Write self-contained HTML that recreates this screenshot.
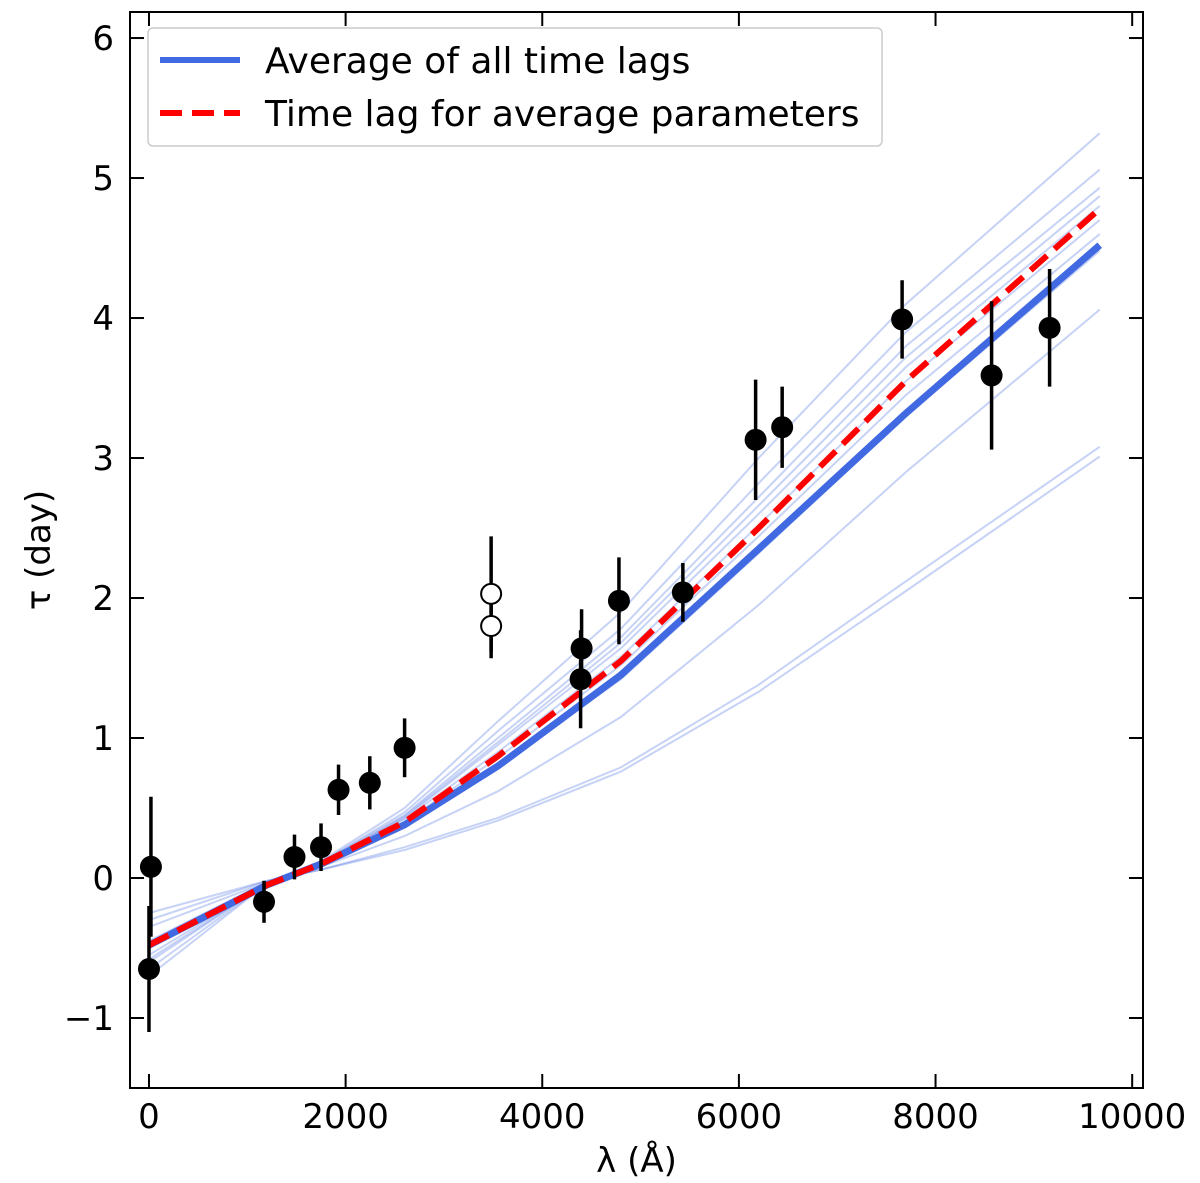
<!DOCTYPE html>
<html><head><meta charset="utf-8"><style>
body{margin:0;background:#fff;}
svg{display:block;font-family:"DejaVu Sans","Liberation Sans",sans-serif;}
</style></head><body>
<svg id="chart" width="1200" height="1183"></svg>
<script>
const gridX=[0,1200,1750,2600,3550,4800,6200,7700,9670];
const thinLines=[
[-0.7,-0.04,0.12,0.5,1.12,1.9,3.0,4.1,5.32],
[-0.65,-0.04,0.11,0.47,1.05,1.78,2.82,3.9,5.06],
[-0.6,-0.04,0.11,0.45,1.0,1.72,2.72,3.8,4.93],
[-0.58,-0.04,0.1,0.44,0.97,1.68,2.66,3.72,4.87],
[-0.55,-0.04,0.1,0.43,0.95,1.64,2.6,3.65,4.8],
[-0.5,-0.04,0.1,0.42,0.9,1.58,2.52,3.55,4.7],
[-0.5,-0.04,0.1,0.4,0.86,1.52,2.44,3.45,4.6],
[-0.45,-0.03,0.09,0.38,0.8,1.42,2.32,3.3,4.48],
[-0.35,-0.03,0.08,0.3,0.62,1.15,1.95,2.9,4.06],
[-0.3,-0.02,0.06,0.22,0.43,0.79,1.38,2.12,3.08],
[-0.25,-0.02,0.06,0.2,0.41,0.76,1.33,2.05,3.01]];
const avgLine=[-0.48,-0.05,0.1,0.38,0.8,1.45,2.35,3.32,4.52];
const avgParamLine=[-0.48,-0.05,0.1,0.4,0.87,1.55,2.5,3.55,4.78];
const ptX=[0,20,1170,1480,1750,1928,2246,2600,4400,4390,4780,5430,6170,6440,7660,8570,9160];
const ptY=[-0.65,0.08,-0.17,0.15,0.22,0.63,0.68,0.93,1.64,1.42,1.98,2.04,3.13,3.22,3.99,3.59,3.93];
const ptErr=[0.45,0.5,0.15,0.16,0.17,0.18,0.19,0.21,0.28,0.35,0.31,0.21,0.43,0.29,0.28,0.53,0.42];
const openX=[3480,3480];
const openY=[2.03,1.80];
const openErr=[0.41,0.23];
const xTicks=[0,2000,4000,6000,8000,10000];
const yTicks=[-1,0,1,2,3,4,5,6];

const L=130,R=1143,T=12,B=1088;
const xMin=-193,xMax=10110,yMin=-1.5,yMax=6.186;
const sx=v=>L+(v-xMin)/(xMax-xMin)*(R-L);
const sy=v=>B-(v-yMin)/(yMax-yMin)*(B-T);
const svg=document.getElementById('chart');
const NS='http://www.w3.org/2000/svg';
function mk(tag,attrs,parent){const e=document.createElementNS(NS,tag);for(const k in attrs)e.setAttribute(k,attrs[k]);(parent||svg).appendChild(e);return e;}
function pathOf(vals){return vals.map((v,i)=>(i?'L':'M')+sx(gridX[i]).toFixed(1)+','+sy(v).toFixed(1)).join('');}

const gThin=mk('g',{});


thinLines.forEach(vals=>{const p=mk('path',{d:pathOf(vals),fill:'none',stroke:'#4169e1','stroke-opacity':0.3,'stroke-width':2},gThin);

});
const pa=mk('path',{d:pathOf(avgLine),fill:'none',stroke:'#4169e1','stroke-width':7});


const pr=mk('path',{d:pathOf(avgParamLine),fill:'none',stroke:'#ff0000','stroke-width':6,'stroke-dasharray':'22,10'});



ptX.forEach((x,i)=>{
const l=mk('line',{x1:sx(x),x2:sx(x),y1:sy(ptY[i]-ptErr[i]),y2:sy(ptY[i]+ptErr[i]),stroke:'#000','stroke-width':3.5});


const c=mk('circle',{cx:sx(x),cy:sy(ptY[i]),r:11,fill:'#000'});


});
openX.forEach((x,i)=>{
const l=mk('line',{x1:sx(x),x2:sx(x),y1:sy(openY[i]-openErr[i]),y2:sy(openY[i]+openErr[i]),stroke:'#000','stroke-width':3.5});


});
openX.forEach((x,i)=>{
const c=mk('circle',{cx:sx(x),cy:sy(openY[i]),r:10,fill:'#fff',stroke:'#000','stroke-width':2});


});

const frame=mk('rect',{x:L,y:T,width:R-L,height:B-T,fill:'none',stroke:'#000','stroke-width':2});


xTicks.forEach(t=>{const x=sx(t);
mk('line',{x1:x,x2:x,y1:B,y2:B-14,stroke:'#000','stroke-width':2});
mk('line',{x1:x,x2:x,y1:T,y2:T+14,stroke:'#000','stroke-width':2});
const tx=mk('text',{x:x,y:B+40,'font-size':34,'text-anchor':'middle'});tx.textContent=t;

});
yTicks.forEach(t=>{const y=sy(t);
mk('line',{x1:L,x2:L+14,y1:y,y2:y,stroke:'#000','stroke-width':2});
mk('line',{x1:R,x2:R-14,y1:y,y2:y,stroke:'#000','stroke-width':2});
const tx=mk('text',{x:L-16,y:y+12,'font-size':34,'text-anchor':'end'});tx.textContent=t<0?'\u2212'+(-t):t;

});
const xl=mk('text',{x:(L+R)/2,y:1172,'font-size':34,'text-anchor':'middle'});xl.textContent='λ (Å)';


const yl=mk('text',{x:50,y:(T+B)/2,'font-size':34,'text-anchor':'middle',transform:'rotate(-90 50 '+((T+B)/2)+')'});yl.textContent='τ (day)';



const lg=mk('g',{});


mk('rect',{x:148,y:28,width:734,height:118,rx:5,fill:'#fff','fill-opacity':0.8,stroke:'#ccc','stroke-width':1.5},lg);
mk('line',{x1:160,x2:240,y1:60,y2:60,stroke:'#4169e1','stroke-width':6},lg);
mk('line',{x1:160,x2:240,y1:113,y2:113,stroke:'#ff0000','stroke-width':6,'stroke-dasharray':'22,10'},lg);
const t1=mk('text',{x:265,y:73,'font-size':36},lg);t1.textContent='Average of all time lags';


const t2=mk('text',{x:265,y:126,'font-size':36},lg);t2.textContent='Time lag for average parameters';


</script>
</body></html>
